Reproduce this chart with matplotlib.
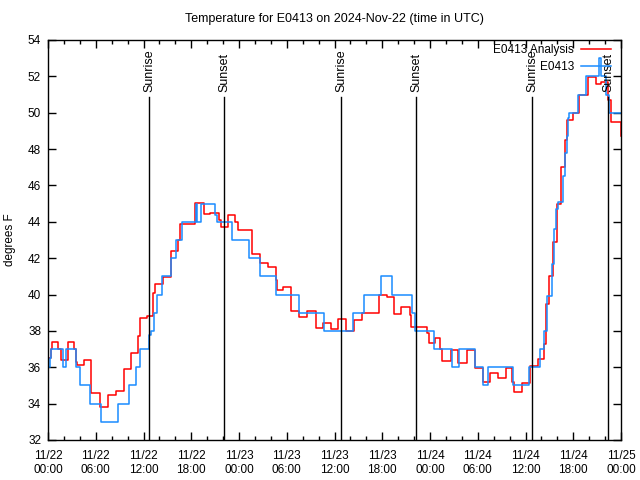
import matplotlib
matplotlib.use('Agg')
import matplotlib.pyplot as plt
import matplotlib.dates as mdates
import matplotlib.transforms as mtransforms
from datetime import datetime, timedelta

# ---- data (hours since 2024-11-22 00:00 UTC, degrees F) ----
obs_t = [0, 0.2, 0.4, 1.85, 2.3, 3.5, 4.0, 5.25, 6.7, 8.75,
         10.2, 11.0, 11.5, 12.7, 12.9, 13.3, 13.7, 14.3, 15.4, 16.1,
         16.9, 18.6, 18.75, 19.25, 21.0, 21.2, 23.1, 25.2, 26.6, 28.65,
         31.5, 34.7, 38.3, 39.7, 41.9, 43.2, 45.7, 46.1, 48.55, 50.8,
         51.6, 53.6, 54.6, 55.35, 58.4, 60.4, 61.8, 62.3, 62.65, 63.3,
         63.6, 63.85, 64.1, 64.7, 64.95, 65.2, 65.4, 65.5, 66.65, 67.6,
         69.25, 69.5, 70.1, 70.5, 72]
obs_v = [36, 36.5, 37, 36, 37, 36, 35, 34, 33, 34,
         35, 36, 37, 37.8, 38, 39, 40, 41, 42, 43,
         44, 45, 44, 45, 44.4, 44, 43, 42, 41, 40,
         39, 38, 39, 40, 41, 40, 39, 38, 37, 36,
         37, 36, 35, 36, 35, 36, 37, 38, 39.9, 41.7,
         43.6, 44.7, 45.1, 46.5, 47.8, 48.7, 49.7, 50, 51, 52,
         53, 52, 51, 50, 50]

ana_t = [0, 0.4, 0.5, 1.3, 1.6, 2.55, 3.3, 3.5, 3.6, 4.5,
         5.4, 6.5, 7.5, 8.5, 9.5, 10.4, 11.35, 11.5, 12.4, 13.2,
         13.45, 14.5, 15.5, 16.3, 16.6, 18.5, 19.6, 20.4, 21.5, 21.7,
         22.6, 23.5, 23.9, 25.6, 26.6, 27.7, 28.6, 28.75, 29.5, 30.5,
         31.5, 32.6, 33.7, 34.6, 35.5, 36.45, 37.5, 38.5, 39.5, 41.6,
         42.6, 43.5, 44.4, 45.45, 45.6, 46.3, 47.6, 47.9, 48.6, 49.3,
         49.5, 50.6, 51.5, 52.6, 53.6, 54.6, 55.5, 56.5, 57.5, 58.3,
         58.5, 59.6, 60.6, 61.6, 62.3, 62.55, 63.0, 63.4, 63.9, 64.5,
         65.0, 65.25, 66.0, 66.7, 67.8, 68.8, 69.5, 70.4, 70.7, 72]
ana_v = [36.5, 37.0, 37.4, 37.0, 36.4, 37.4, 37.0, 36.3, 36.1, 36.4,
         34.6, 33.8, 34.5, 34.7, 35.9, 36.8, 37.7, 38.7, 38.8, 40.1,
         40.6, 40.95, 42.4, 43.0, 43.9, 45.05, 44.45, 44.5, 44.1, 43.7,
         44.4, 44.0, 43.55, 42.23, 41.75, 41.53, 40.8, 40.25, 40.43, 39.09,
         38.78, 39.11, 38.14, 38.42, 38.1, 38.64, 37.99, 38.6, 39.0, 39.97,
         39.85, 38.93, 39.3, 38.9, 38.23, 38.2, 37.87, 37.32, 37.6, 37.0,
         36.36, 36.95, 36.25, 36.95, 35.94, 35.2, 35.67, 35.39, 35.94, 35.2,
         34.66, 35.12, 36.05, 36.44, 37.3, 39.5, 41.0, 42.9, 45.0, 47.0,
         48.5, 49.6, 50.0, 51.0, 51.98, 51.6, 51.67, 50.7, 49.5, 48.7]

sun_t = [12.69, 22.12, 36.82, 46.24, 60.82, 70.37]
sun_lab = ['Sunrise', 'Sunset', 'Sunrise', 'Sunset', 'Sunrise', 'Sunset']

y_ticks = list(range(32, 55, 2))
title = 'Temperature for E0413 on 2024-Nov-22 (time in UTC)'

plt.rcParams['font.family'] = ['Liberation Sans', 'DejaVu Sans']

start = datetime(2024, 11, 22)
def to_dt(hs):
    return [start + timedelta(hours=h) for h in hs]

fig = plt.figure(figsize=(6.4, 4.8), dpi=100)
ax = fig.add_axes([48/640, 40/480, 573/640, 400/480])

ax.plot(to_dt(ana_t), ana_v, drawstyle='steps-post', color='#ff0000', lw=1.1,
        label='E0413 Analysis')
ax.plot(to_dt(obs_t), obs_v, drawstyle='steps-post', color='#1a8cff', lw=1.1,
        label='E0413')

trans = mtransforms.blended_transform_factory(ax.transData, ax.transAxes)
for t, lab in zip(sun_t, sun_lab):
    d = start + timedelta(hours=t)
    ax.axvline(d, ymin=0, ymax=0.8575, color='black', lw=1)
    ax.text(d, 0.87, lab, rotation=90, ha='center', va='bottom',
            transform=trans, fontsize=9)

ax.set_xlim(start, start + timedelta(hours=72))
ax.set_ylim(32, 54)
ax.set_yticks(y_ticks)
ax.xaxis.set_major_locator(mdates.HourLocator(byhour=[0, 6, 12, 18]))
ax.xaxis.set_minor_locator(mdates.HourLocator(byhour=range(0, 24, 2)))
ax.xaxis.set_major_formatter(mdates.DateFormatter('%m/%d\n%H:%M'))
ax.tick_params(which='both', direction='in', top=True, right=True, labelsize=8.5)
ax.tick_params(which='major', length=6, width=1)
ax.tick_params(which='minor', length=3, width=1)
ax.tick_params(axis='y', pad=5)
ax.tick_params(axis='x', pad=7)
for s in ax.spines.values():
    s.set_linewidth(1)

fig.text(10/640, 0.5, 'degrees F', rotation=90, ha='center', va='center', fontsize=8.5)
fig.text(334/640, 1 - 19/480, title, ha='center', va='center', fontsize=9)

ax.legend(loc='upper right', frameon=False, markerfirst=False,
          bbox_to_anchor=((612-48)/573, (440-43)/400), borderaxespad=0,
          borderpad=0.1, handlelength=2.5, handletextpad=0.6, labelspacing=0.4,
          fontsize=8.5)

fig.savefig('out.png', dpi=100)
